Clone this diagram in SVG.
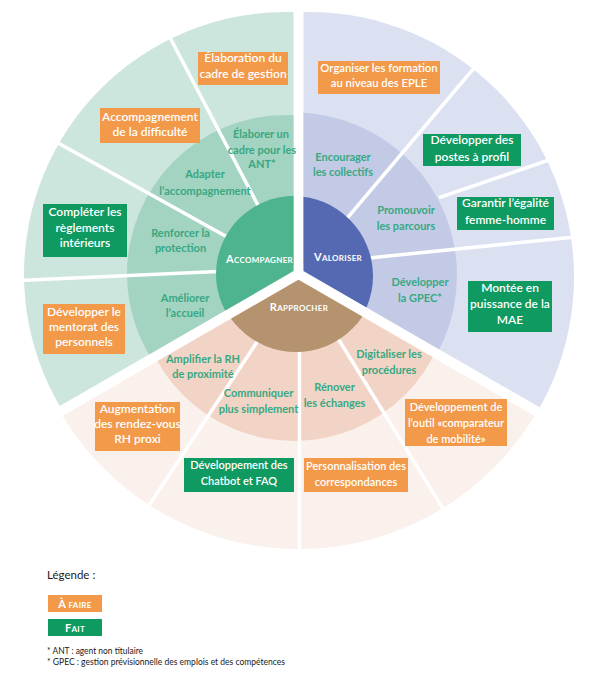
<svg xmlns="http://www.w3.org/2000/svg" width="595" height="684" viewBox="0 0 595 684">
<style>
.bx{font-family:Lato,"Liberation Sans",sans-serif;font-size:12px;font-weight:600;fill:#fff;text-anchor:middle}
.bxs{font-size:11px}
.bxm{font-size:11.3px}
.mid{font-family:Lato,"Liberation Sans",sans-serif;font-size:11px;font-weight:700;fill:#38a882;text-anchor:middle}
.core{font-family:Lato,"Liberation Sans",sans-serif;font-weight:700;fill:#fff;text-anchor:middle;letter-spacing:0.3px}
.div{stroke:#fff;stroke-width:3.5;fill:none}
.or{fill:#f2994a}
.gr{fill:#0e9a60}
.lg{font-family:Lato,"Liberation Sans",sans-serif;fill:#1a1a1a}
</style>
<defs>
<clipPath id="cg"><polygon points="293.5,271 293.5,-20 -60,-20 -60,475.1"/></clipPath>
<clipPath id="cb"><polygon points="303.5,271 303.5,-20 660,-20 660,476.8"/></clipPath>
<clipPath id="cp"><polygon points="298.5,279.7 -60,486.6 -60,700 660,700 660,488.3"/></clipPath>
</defs>
<rect width="595" height="684" fill="#fff"/>

<g id="sector-accompagner" clip-path="url(#cg)">
<circle cx="286" cy="274" r="262" fill="#cde6dd"/>
<circle cx="286" cy="274" r="159" fill="#a3d3c1"/>
<g class="div"><line x1="294" y1="274" x2="165" y2="28"/><line x1="294" y1="274" x2="40" y2="133"/><line x1="294" y1="268" x2="8" y2="281"/></g>
<circle cx="294" cy="274" r="78" fill="#4db48d"/>
</g>
<g id="sector-valoriser" clip-path="url(#cb)">
<circle cx="309" cy="277" r="265" fill="#dce1f2"/>
<circle cx="294" cy="275.5" r="163" fill="#c3cae6"/>
<g class="div"><line x1="300" y1="274" x2="480" y2="61"/><line x1="439" y1="197.7" x2="562" y2="155.5"/><line x1="300" y1="265" x2="585" y2="236"/></g>
<circle cx="293" cy="276" r="80" fill="#5469b1"/>
</g>
<g id="sector-rapprocher" clip-path="url(#cp)">
<circle cx="298.5" cy="273.3" r="275.7" fill="#fbf1ec"/>
<circle cx="294" cy="284" r="157" fill="#f2d4c7"/>
<g class="div"><line x1="298" y1="280" x2="140" y2="519"/><line x1="299.5" y1="280" x2="299.5" y2="560"/><line x1="302" y1="280" x2="450" y2="520"/></g>
<circle cx="296" cy="272" r="80" fill="#b4936e"/>
</g>

<g id="core-labels">
<text class="core" x="259.5" y="263"><tspan font-size="11">A</tspan><tspan font-size="8">CCOMPAGNER</tspan></text>
<text class="core" x="338" y="261"><tspan font-size="11">V</tspan><tspan font-size="8">ALORISER</tspan></text>
<text class="core" x="299" y="311"><tspan font-size="11">R</tspan><tspan font-size="8">APPROCHER</tspan></text>
</g>

<g id="mid-labels">
<text class="mid"><tspan x="261" y="138">Élaborer un</tspan><tspan x="262" y="154">cadre pour les</tspan><tspan x="262" y="168">ANT*</tspan></text>
<text class="mid"><tspan x="205" y="178">Adapter</tspan><tspan x="205" y="195">l’accompagnement</tspan></text>
<text class="mid"><tspan x="180.5" y="237">Renforcer la</tspan><tspan x="180.5" y="252">protection</tspan></text>
<text class="mid"><tspan x="185" y="302">Améliorer</tspan><tspan x="185" y="317">l’accueil</tspan></text>
<text class="mid"><tspan x="343" y="161">Encourager</tspan><tspan x="343" y="176">les collectifs</tspan></text>
<text class="mid"><tspan x="406" y="214">Promouvoir</tspan><tspan x="406" y="230">les parcours</tspan></text>
<text class="mid"><tspan x="420" y="286">Développer</tspan><tspan x="420" y="302">la GPEC*</tspan></text>
<text class="mid"><tspan x="203" y="363">Amplifier la RH</tspan><tspan x="203" y="378">de proximité</tspan></text>
<text class="mid"><tspan x="258.5" y="397">Communiquer</tspan><tspan x="258.5" y="413">plus simplement</tspan></text>
<text class="mid"><tspan x="334.5" y="391">Rénover</tspan><tspan x="334.5" y="407">les échanges</tspan></text>
<text class="mid"><tspan x="389" y="358">Digitaliser les</tspan><tspan x="389" y="374">procédures</tspan></text>
</g>

<g id="box-elaboration"><rect class="or" x="198" y="52" width="90" height="33"/><text class="bx"><tspan x="243" y="62">Élaboration du</tspan><tspan x="243" y="78">cadre de gestion</tspan></text></g>
<g id="box-accompagnement"><rect class="or" x="100" y="108" width="100" height="35"/><text class="bx"><tspan x="150" y="121">Accompagnement</tspan><tspan x="150" y="136">de la difficulté</tspan></text></g>
<g id="box-reglements"><rect class="gr" x="43" y="204" width="84" height="53"/><text class="bx"><tspan x="85" y="216">Compléter les</tspan><tspan x="85" y="232">règlements</tspan><tspan x="85" y="247">intérieurs</tspan></text></g>
<g id="box-mentorat"><rect class="or" x="43" y="304" width="82" height="50"/><text class="bx"><tspan x="84" y="316">Développer le</tspan><tspan x="84" y="331">mentorat des</tspan><tspan x="84" y="346">personnels</tspan></text></g>
<g id="box-formation"><rect class="or" x="318" y="61" width="122" height="33"/><text class="bx bxm"><tspan x="379" y="72">Organiser les formation</tspan><tspan x="379" y="87">au niveau des EPLE</tspan></text></g>
<g id="box-postes"><rect class="gr" x="423" y="134" width="98" height="32"/><text class="bx"><tspan x="472" y="144">Développer des</tspan><tspan x="472" y="161">postes à profil</tspan></text></g>
<g id="box-egalite"><rect class="gr" x="457" y="197" width="97" height="33"/><text class="bx"><tspan x="505.5" y="207">Garantir l’égalité</tspan><tspan x="505.5" y="224">femme-homme</tspan></text></g>
<g id="box-mae"><rect class="gr" x="468" y="281" width="84" height="51"/><text class="bx"><tspan x="510" y="292">Montée en</tspan><tspan x="510" y="308">puissance de la</tspan><tspan x="510" y="324">MAE</tspan></text></g>
<g id="box-rdv"><rect class="or" x="95" y="402" width="85" height="49"/><text class="bx"><tspan x="137.5" y="413">Augmentation</tspan><tspan x="137.5" y="428">des rendez-vous</tspan><tspan x="137.5" y="443">RH  proxi</tspan></text></g>
<g id="box-chatbot"><rect class="gr" x="184" y="458" width="110" height="34"/><text class="bx bxs"><tspan x="239" y="469">Développement des</tspan><tspan x="239" y="485">Chatbot et FAQ</tspan></text></g>
<g id="box-correspondances"><rect class="or" x="304" y="458" width="104" height="34"/><text class="bx bxs"><tspan x="356" y="470">Personnalisation des</tspan><tspan x="356" y="486">correspondances</tspan></text></g>
<g id="box-comparateur"><rect class="or" x="405" y="399" width="102" height="47"/><text class="bx bxs"><tspan x="456" y="411">Développement de</tspan><tspan x="456" y="427">l’outil «comparateur</tspan><tspan x="456" y="443">de mobilité»</tspan></text></g>

<g id="legend">
<text class="lg" x="47" y="579" font-size="11.5">Légende :</text>
<rect class="or" x="48" y="595" width="54" height="17"/>
<text class="core" x="75" y="608"><tspan font-size="11">À</tspan><tspan font-size="8"> FAIRE</tspan></text>
<rect class="gr" x="48" y="619" width="54" height="17"/>
<text class="core" x="75" y="632"><tspan font-size="11">F</tspan><tspan font-size="8">AIT</tspan></text>
<text class="lg" x="47" y="654" font-size="9" textLength="96" lengthAdjust="spacingAndGlyphs">* ANT : agent non titulaire</text>
<text class="lg" x="47" y="664.5" font-size="9" textLength="238" lengthAdjust="spacingAndGlyphs">* GPEC : gestion prévisionnelle des emplois et des compétences</text>
</g>
</svg>
